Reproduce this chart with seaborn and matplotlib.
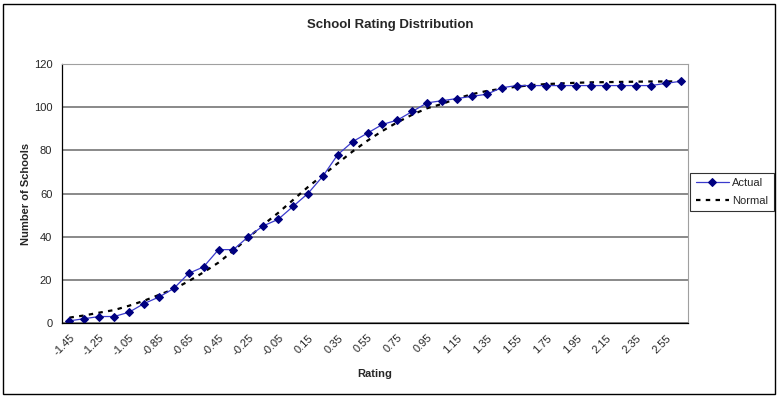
import numpy as np
import pandas as pd
import seaborn as sns
import matplotlib.pyplot as plt
from matplotlib.patches import Rectangle

# ratings, one category every 0.1
ratings = ['-1.45', '-1.35', '-1.25', '-1.15', '-1.05', '-0.95', '-0.85', '-0.75',
           '-0.65', '-0.55', '-0.45', '-0.35', '-0.25', '-0.15', '-0.05', '0.05',
           '0.15', '0.25', '0.35', '0.45', '0.55', '0.65', '0.75', '0.85', '0.95',
           '1.05', '1.15', '1.25', '1.35', '1.45', '1.55', '1.65', '1.75', '1.85',
           '1.95', '2.05', '2.15', '2.25', '2.35', '2.45', '2.55', '2.65']
actual = [1, 2, 3, 3, 5, 9, 12, 16, 23, 26, 34, 34, 40, 45, 48, 54, 60, 68, 78, 84,
          88, 92, 94, 98, 102, 103, 104, 105, 106, 109, 110, 110, 110, 110, 110, 110,
          110, 110, 110, 110, 111, 112]
normal = [2.5, 3.5, 4.8, 6, 8, 10.3, 13, 15.7, 19.4, 23.5, 28, 33.5, 39.5, 45.5, 51,
          57, 63, 68.5, 74, 79.5, 84.5, 89, 93, 96.5, 99.5, 101.5, 104, 106, 107.5,
          108.5, 109.5, 110.2, 110.7, 111, 111.3, 111.5, 111.6, 111.7, 111.8, 111.9,
          111.9, 112]

df = pd.DataFrame({'pos': np.arange(len(ratings)), 'Actual': actual, 'Normal': normal})

sns.set_style('white')
plt.rcParams['font.family'] = ['Liberation Sans', 'DejaVu Sans']

fig = plt.figure(figsize=(7.8, 3.98), dpi=100)
ax = fig.add_axes([62 / 780, 1 - 323 / 398, 626 / 780, 259 / 398])

sns.lineplot(data=df, x='pos', y='Normal', ax=ax, color='black', lw=1.6,
             linestyle=(0, (2, 2.4)), label='Normal')
sns.lineplot(data=df, x='pos', y='Actual', ax=ax, color='#3a3acc', lw=0.9,
             marker='D', markersize=4, markerfacecolor='#000080',
             markeredgecolor='#000080', label='Actual')

ax.set_xlim(-0.5, len(ratings) - 0.5)
ax.set_ylim(0, 120)
ax.set_yticks(range(0, 121, 20))
ax.yaxis.grid(True, color='#808080', lw=1.3)
ax.set_axisbelow(True)

# labels every other category, tick marks on category boundaries
ax.set_xticks(df['pos'][::2])
ax.set_xticklabels(ratings[::2], rotation=45, ha='right', rotation_mode='anchor')
ax.set_xticks(np.arange(-0.5, len(ratings)), minor=True)
ax.tick_params(axis='x', which='major', length=0, pad=7, labelsize=8)
ax.tick_params(axis='x', which='minor', length=4, width=0.8, color='black', direction='out')
ax.tick_params(axis='y', length=4, width=0.8, color='black', direction='out', labelsize=8, pad=3)

for s in ['top', 'right']:
    ax.spines[s].set_color('#a0a0a0')
for s in ['left', 'bottom']:
    ax.spines[s].set_color('black')
    ax.spines[s].set_linewidth(0.9)

ax.set_xlabel('Rating', fontsize=8, fontweight='bold', labelpad=8)
ax.set_ylabel('Number of Schools', fontsize=8, fontweight='bold', labelpad=2)
fig.text(0.5, 1 - 25 / 398, 'School Rating Distribution', ha='center', va='center',
         fontsize=9.5, fontweight='bold')

h, l = ax.get_legend_handles_labels()
leg = ax.legend(h[::-1], l[::-1], loc='center', bbox_to_anchor=(732 / 780, 1 - 192 / 398),
                bbox_transform=fig.transFigure, fontsize=8, frameon=True, fancybox=False,
                edgecolor='black', handlelength=3, borderpad=0.5, labelspacing=0.7,
                handletextpad=0.3)
leg.get_frame().set_linewidth(0.8)

fig.patches.append(Rectangle((3 / 780, 4 / 398), 772 / 780, 390 / 398, transform=fig.transFigure,
                             fill=False, edgecolor='black', lw=1))

fig.savefig('out.png', dpi=100)
